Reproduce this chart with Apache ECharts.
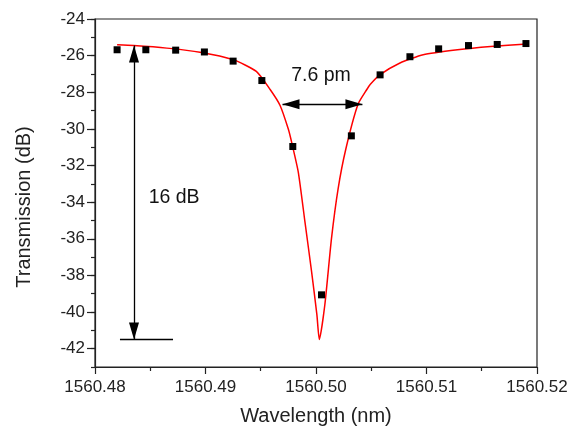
<!DOCTYPE html>
<html><head><meta charset="utf-8">
<script src="https://cdn.jsdelivr.net/npm/echarts@6/dist/echarts.min.js"></script>
<style>html,body{margin:0;padding:0;background:#fff}#c{width:573px;height:431px}</style>
</head><body><div id="c"></div>
<script>
// measured points (wavelength nm, transmission dB)
const measWl = [1560.4820,1560.4846,1560.4873,1560.4899,1560.4925,1560.4951,1560.4979,1560.5005,1560.5032,1560.5058,1560.5085,1560.5111,1560.5138,1560.5164,1560.5190];
const measDb = [-25.68,-25.68,-25.70,-25.80,-26.30,-27.36,-30.96,-39.06,-30.38,-27.05,-26.06,-25.63,-25.45,-25.39,-25.34];
// fitted curve
const fitWl = [1560.4820,1560.4835,1560.4865,1560.4895,1560.4925,1560.4946,1560.49585,1560.49675,1560.4975,1560.4978,1560.4984,1560.4990,1560.4996,1560.50008,1560.5003,1560.5008,1560.5014,1560.5020,1560.5027,1560.5038,1560.5046,1560.5049,1560.5058,1560.5076,1560.5097,1560.5128,1560.5158,1560.5191];
const fitDb = [-25.41,-25.45,-25.59,-25.81,-26.22,-26.86,-27.85,-28.72,-30.02,-30.74,-32.37,-35.08,-37.79,-40.14,-41.50,-39.60,-35.99,-33.27,-31.10,-28.66,-27.85,-27.58,-27.04,-26.40,-25.95,-25.68,-25.50,-25.36];
const yTicks = [-42,-40,-38,-36,-34,-32,-30,-28,-26,-24];
const fwhmText = '7.6 pm';
const depthText = '16 dB';
const fwhmY = -28.66, fwhmX1 = 1560.49697, fwhmX2 = 1560.50420;
const depthX = 1560.48353, depthTop = -25.45, depthBot = -41.50;
const baseX1 = 1560.48226, baseX2 = 1560.48706;
const fwhmLabelPos = [1560.50045, -27.09];
const depthLabelPos = [1560.48716, -33.76];

const font = 'Liberation Sans, Arial, sans-serif';
const ink = '#222';
const arrowEnd = {symbol:'triangle', symbolSize:[10,17], symbolOffset:[0,8.5]};
const chart = echarts.init(document.getElementById('c'));
chart.setOption({
  animation:false,
  grid:{left:95,right:36,top:19,bottom:61,show:true,borderColor:ink,borderWidth:1.2},
  xAxis:{type:'value',min:1560.48,max:1560.52,interval:0.01,
    name:'Wavelength (nm)',nameLocation:'middle',nameGap:39,
    nameTextStyle:{fontFamily:font,fontSize:20,color:ink},
    axisLine:{show:true,lineStyle:{color:ink,width:1.2}},
    axisTick:{show:true,inside:false,length:7,lineStyle:{color:ink,width:1.2}},
    minorTick:{show:true,splitNumber:2,length:4,lineStyle:{color:ink,width:1.2}},
    splitLine:{show:false},
    axisLabel:{fontFamily:font,fontSize:17,color:ink,margin:12,formatter:v=>v.toFixed(2)}},
  yAxis:[
    {type:'value',min:-43,max:-24,
    name:'Transmission (dB)',nameLocation:'middle',nameGap:61,
    nameTextStyle:{fontFamily:font,fontSize:20,color:ink,padding:[0,28,0,0]},
    axisLine:{show:true,lineStyle:{color:ink,width:1.2}},
    axisTick:{show:true,inside:false,length:8,customValues:yTicks,lineStyle:{color:ink,width:1.2}},
    splitLine:{show:false},
    axisLabel:{fontFamily:font,fontSize:17,color:ink,margin:10,customValues:yTicks}},
    {type:'value',min:-43,max:-24,interval:1,position:'left',
    axisLine:{show:false},
    axisTick:{show:true,inside:false,length:4,lineStyle:{color:ink,width:1.2}},
    axisLabel:{show:false},splitLine:{show:false}}
  ],
  series:[
    {type:'line',data:fitWl.map((x,i)=>[x,fitDb[i]]),showSymbol:false,smooth:0.2,
     lineStyle:{color:'#ff0000',width:1.5},z:3},
    {type:'scatter',data:measWl.map((x,i)=>[x,measDb[i]]),symbol:'rect',symbolSize:7,
     itemStyle:{color:'#000',opacity:1},z:4,
     markLine:{silent:true,animation:false,symbol:['none','none'],
       lineStyle:{color:'#000',width:1.3,type:'solid'},label:{show:false},
       data:[
         [Object.assign({coord:[fwhmX1,fwhmY]},arrowEnd),Object.assign({coord:[fwhmX2,fwhmY]},arrowEnd)],
         [Object.assign({coord:[depthX,depthTop]},arrowEnd),Object.assign({coord:[depthX,depthBot]},arrowEnd)],
         [{coord:[baseX1,depthBot],symbol:'none'},{coord:[baseX2,depthBot],symbol:'none'}]
       ]},
     markPoint:{silent:true,symbol:'circle',symbolSize:0,
       label:{show:true,fontFamily:font,fontSize:19.5,color:'#111',position:'inside'},
       data:[
         {coord:fwhmLabelPos,value:fwhmText,label:{formatter:fwhmText}},
         {coord:depthLabelPos,value:depthText,label:{formatter:depthText}}
       ]}}
  ]
});
</script></body></html>
